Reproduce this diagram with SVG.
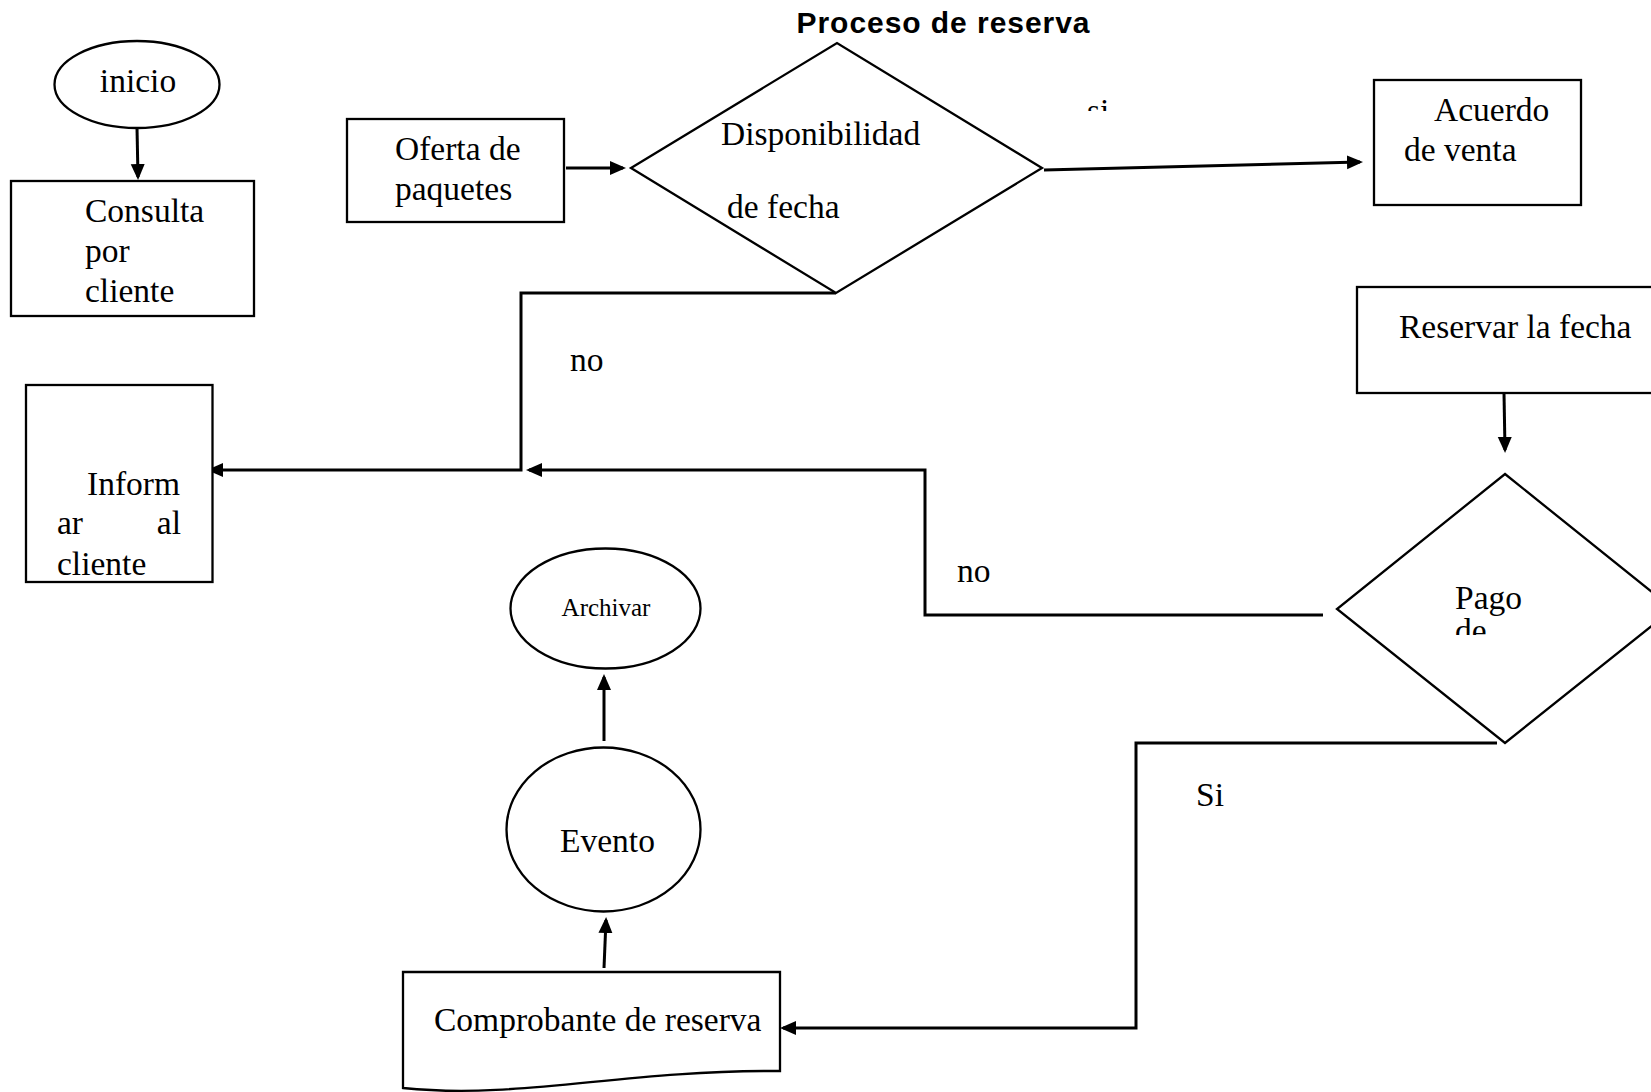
<svg xmlns="http://www.w3.org/2000/svg" width="1651" height="1092" viewBox="0 0 1651 1092">
<style>
.s{fill:#fff;stroke:#000;stroke-width:2.3}
.t{font-family:"Liberation Serif","Times New Roman",serif;font-size:33.5px;fill:#000}
.sm{font-size:25px}
.c{fill:none;stroke:#000;stroke-width:3}
.title{font-family:"Liberation Sans",Arial,sans-serif;font-weight:bold;font-size:30px;letter-spacing:0.95px;fill:#000}
</style>
<defs>
<marker id="ah" markerUnits="userSpaceOnUse" markerWidth="18" markerHeight="16" refX="13" refY="7" orient="auto">
<path d="M0,0 L16,7 L0,14 Z" fill="#000"/>
</marker>
<clipPath id="clipSi"><rect x="1070" y="90" width="60" height="21"/></clipPath>
<clipPath id="clipPago"><rect x="1440" y="570" width="120" height="65"/></clipPath>
</defs>
<rect width="1651" height="1092" fill="#fff"/>
<text class="title" x="943.5" y="33" text-anchor="middle">Proceso de reserva</text>

<g id="connectors">
<line class="c" x1="137" y1="128" x2="138" y2="177" marker-end="url(#ah)"/>
<line class="c" x1="566" y1="168" x2="623" y2="168" marker-end="url(#ah)"/>
<line class="c" x1="1044" y1="170" x2="1360" y2="162" marker-end="url(#ah)"/>
<polyline class="c" points="836,293 521,293 521,470 210,470" marker-end="url(#ah)"/>
<line class="c" x1="1504" y1="393" x2="1505" y2="450" marker-end="url(#ah)"/>
<polyline class="c" points="1323,615 925,615 925,470 529,470" marker-end="url(#ah)"/>
<polyline class="c" points="1497,743 1136,743 1136,1028 783,1028" marker-end="url(#ah)"/>
<line class="c" x1="604" y1="968" x2="606" y2="920" marker-end="url(#ah)"/>
<line class="c" x1="604" y1="741" x2="604" y2="677" marker-end="url(#ah)"/>
</g>

<g id="n-inicio">
<ellipse class="s" cx="137" cy="84.5" rx="82.5" ry="43.5"/>
<text class="t" x="138" y="92" text-anchor="middle">inicio</text>
</g>
<g id="n-consulta">
<rect class="s" x="11" y="181" width="243" height="135"/>
<text class="t" x="85" y="222">Consulta</text>
<text class="t" x="85" y="262">por</text>
<text class="t" x="85" y="302">cliente</text>
</g>
<g id="n-oferta">
<rect class="s" x="347" y="119" width="217" height="103"/>
<text class="t" x="395" y="160">Oferta de</text>
<text class="t" x="395" y="200">paquetes</text>
</g>
<g id="n-disponibilidad">
<polygon class="s" points="631,168 837,43 1042,168 836,293"/>
<text class="t" x="721" y="145">Disponibilidad</text>
<text class="t" x="727" y="218">de fecha</text>
</g>
<g id="l-si">
<text class="t" x="1087" y="122" clip-path="url(#clipSi)">si</text>
</g>
<g id="n-acuerdo">
<rect class="s" x="1374" y="80" width="207" height="125"/>
<text class="t" x="1434" y="121">Acuerdo</text>
<text class="t" x="1404" y="161">de venta</text>
</g>
<g id="n-reservar">
<rect class="s" x="1357" y="287" width="320" height="106"/>
<text class="t" x="1399" y="338">Reservar la fecha</text>
</g>
<g id="l-no1">
<text class="t" x="570" y="371">no</text>
</g>
<g id="n-informar">
<rect class="s" x="26" y="385" width="186.5" height="197"/>
<text class="t" x="87" y="495">Inform</text>
<text class="t" x="57" y="534">ar</text>
<text class="t" x="181" y="534" text-anchor="end">al</text>
<text class="t" x="57" y="575">cliente</text>
</g>
<g id="l-no2">
<text class="t" x="957" y="582">no</text>
</g>
<g id="n-pago">
<polygon class="s" points="1505,474 1673,609 1505,743 1337,609"/>
<text class="t" x="1455" y="609">Pago</text>
<text class="t" x="1455" y="642" clip-path="url(#clipPago)">de</text>
</g>
<g id="n-archivar">
<ellipse class="s" cx="605.5" cy="608.5" rx="95" ry="60"/>
<text class="t sm" x="606" y="616" text-anchor="middle">Archivar</text>
</g>
<g id="n-evento">
<ellipse class="s" cx="603.5" cy="829.5" rx="97" ry="82"/>
<text class="t" x="560" y="852">Evento</text>
</g>
<g id="l-si2">
<text class="t" x="1196" y="806">Si</text>
</g>
<g id="n-comprobante">
<path class="s" d="M403,972 H780 V1071 C620,1070 520,1100 403,1088 Z"/>
<text class="t" x="434" y="1031">Comprobante de reserva</text>
</g>
</svg>
